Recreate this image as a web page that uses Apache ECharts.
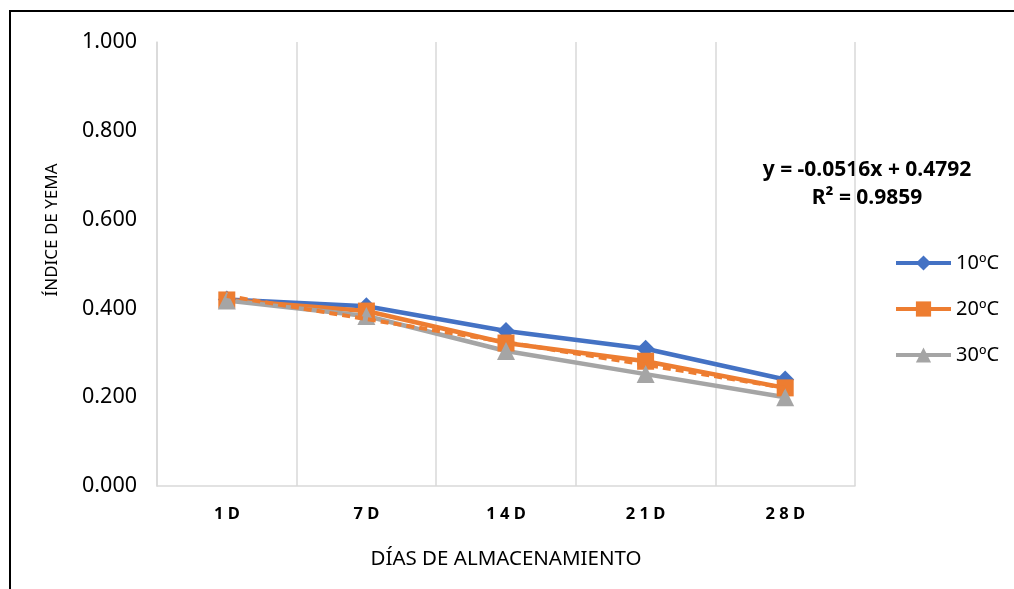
<!DOCTYPE html>
<html>
<head>
<meta charset="utf-8">
<script src="https://cdn.jsdelivr.net/npm/echarts@6/dist/echarts.min.js"></script>
<style>
html,body{margin:0;padding:0;background:#fff;}
#frame{position:absolute;left:9px;top:10px;width:1100px;height:700px;border-left:2px solid #000;border-top:2px solid #000;}
#chart{position:absolute;left:0;top:0;width:1014px;height:589px;}
</style>
</head>
<body>
<div id="frame"></div>
<div id="chart"></div>
<script>
const categories = ['1D', '7D', '14D', '21D', '28D'];
const yTicks = [0, 0.2, 0.4, 0.6, 0.8, 1.0];
const s10 = [0.420, 0.405, 0.349, 0.309, 0.240];
const s20 = [0.419, 0.394, 0.322, 0.281, 0.221];
const s30 = [0.418, 0.383, 0.304, 0.252, 0.200];
const trend20 = [0.428, 0.376, 0.324, 0.273, 0.221];
const equationLines = ['y = -0.0516x + 0.4792', 'R² = 0.9859'];
const xTitle = 'DÍAS DE ALMACENAMIENTO';
const yTitle = 'ÍNDICE DE YEMA';

const FONT = 'Noto Sans';
const chart = echarts.init(document.getElementById('chart'), null, {renderer: 'canvas'});
const lineSeries = (name, data, color, symbol, size) => ({
  name, type: 'line', data, symbol, symbolSize: size,
  lineStyle: {color, width: 4.5},
  itemStyle: {color},
  z: 2
});
chart.setOption({
  animation: false,
  backgroundColor: 'transparent',
  grid: {left: 157, right: 159, top: 42, bottom: 103},
  xAxis: {
    type: 'category', data: categories, boundaryGap: true,
    axisLine: {lineStyle: {color: '#d9d9d9', width: 1.5}},
    axisTick: {show: false},
    splitLine: {show: true, lineStyle: {color: '#d9d9d9', width: 1.5}},
    axisLabel: {
      margin: 20, color: '#000', fontFamily: FONT, fontWeight: 'bold', fontSize: 16.5,
      formatter: v => v.split('').join(' ')
    },
    name: xTitle, nameLocation: 'middle', nameGap: 63,
    nameTextStyle: {color: '#000', fontFamily: FONT, fontSize: 20.5}
  },
  yAxis: {
    type: 'value', min: 0, max: 1, interval: 0.2,
    axisLine: {show: true, lineStyle: {color: '#d9d9d9', width: 1.5}},
    axisTick: {show: false},
    splitLine: {show: false},
    axisLabel: {
      margin: 20, color: '#000', fontFamily: FONT, fontSize: 21.5,
      formatter: v => yTicks.some(t => Math.abs(t - v) < 1e-9) ? v.toFixed(3) : ''
    }
  },
  legend: {
    orient: 'vertical', left: 889, top: 248, itemGap: 26,
    itemWidth: 55, itemHeight: 19,
    data: ['10ºC', '20ºC', '30ºC'],
    lineStyle: {width: 4},
    textStyle: {color: '#000', fontFamily: FONT, fontSize: 20, lineHeight: 19}
  },
  graphic: [
    {type: 'text', x: 52, y: 230, rotation: Math.PI / 2,
     style: {text: yTitle, x: 0, y: 0, textAlign: 'center', textVerticalAlign: 'middle', fill: '#000', font: '17px "Noto Sans"'}},
    {type: 'text', style: {text: equationLines[0], x: 867, y: 170, textAlign: 'center', textVerticalAlign: 'middle', fill: '#000', font: 'bold 21px "Noto Sans"'}},
    {type: 'text', style: {text: equationLines[1], x: 867, y: 198, textAlign: 'center', textVerticalAlign: 'middle', fill: '#000', font: 'bold 21px "Noto Sans"'}}
  ],
  series: [
    lineSeries('10ºC', s10, '#4472c4', 'diamond', 18),
    lineSeries('20ºC', s20, '#ed7d31', 'rect', 17),
    lineSeries('30ºC', s30, '#a5a5a5', 'triangle', 18),
    {
      name: 'trend', type: 'line', data: trend20, symbol: 'none',
      lineStyle: {color: '#ed7d31', width: 4, type: [8, 5]},
      z: 3, silent: true
    }
  ]
});
</script>
</body>
</html>
